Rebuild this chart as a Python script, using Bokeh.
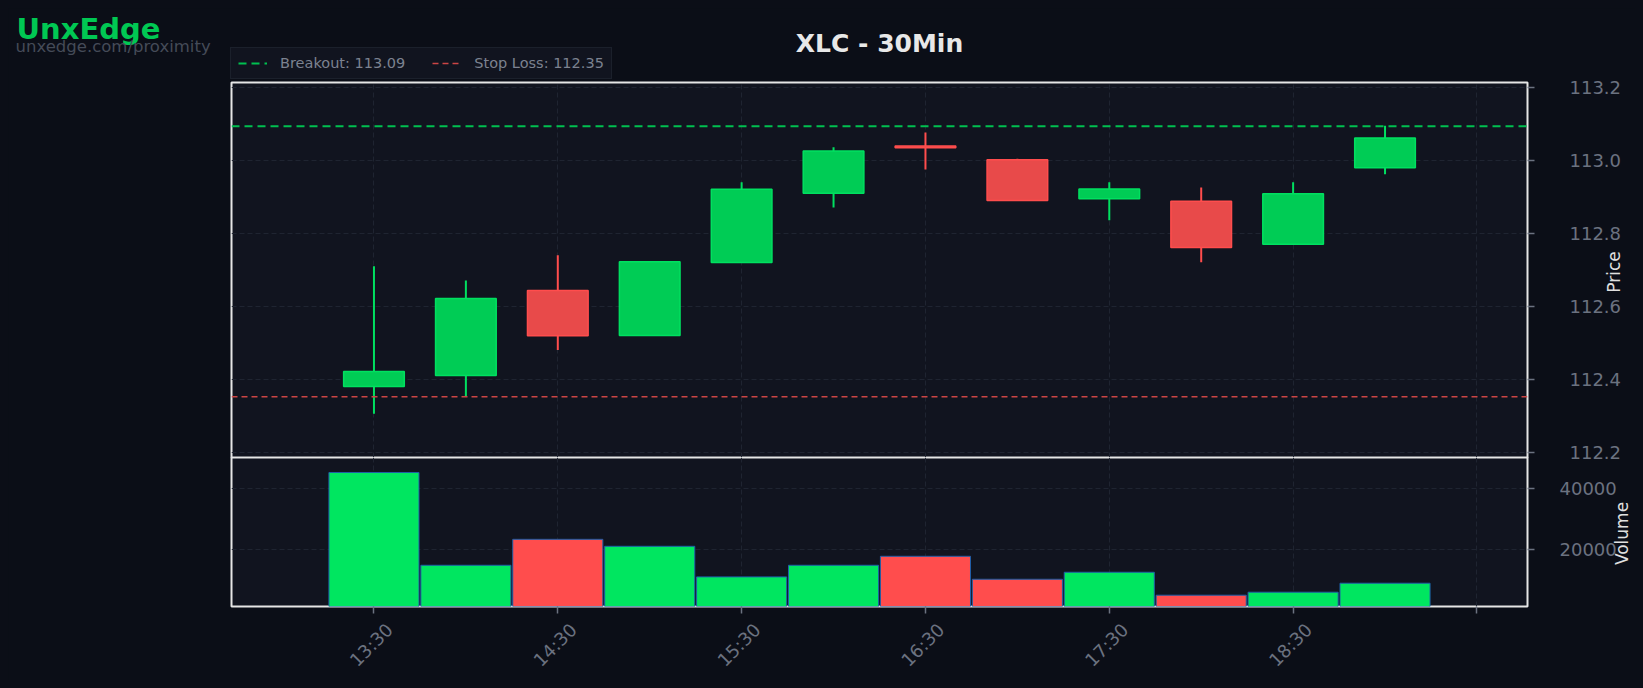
import math
from bokeh.plotting import figure
from bokeh.models import (ColumnDataSource, Range1d, FixedTicker, Grid, Span,
                          Legend, LegendItem, NumeralTickFormatter, LinearAxis)
from bokeh.layouts import column
from bokeh.embed import file_html
from bokeh.resources import INLINE
from bokeh.core.properties import value

# ---------------- data ----------------
times = ["13:30", "14:00", "14:30", "15:00", "15:30", "16:00",
         "16:30", "17:00", "17:30", "18:00", "18:30", "19:00"]
opens = [112.380, 112.410, 112.643, 112.520, 112.720, 112.910,
         113.040, 113.002, 112.895, 112.888, 112.770, 112.980]
highs = [112.710, 112.671, 112.740, 112.722, 112.940, 113.036,
         113.077, 113.005, 112.940, 112.926, 112.940, 113.095]
lows = [112.305, 112.353, 112.480, 112.519, 112.720, 112.871,
        112.975, 112.890, 112.836, 112.721, 112.769, 112.962]
closes = [112.421, 112.621, 112.519, 112.722, 112.921, 113.026,
          113.035, 112.890, 112.922, 112.761, 112.909, 113.062]
volumes = [45150, 15010, 23440, 21170, 11240, 15010,
           17930, 10470, 12740, 5290, 6260, 9180]

breakout_level = 113.094
stop_loss_level = 112.352
symbol = "XLC"
timeframe = "30Min"
brand = "UnxEdge"
brand_url = "unxedge.com/proximity"
price_label = "Price"
volume_label = "Volume"
price_ticks = [112.2, 112.4, 112.6, 112.8, 113.0, 113.2]
volume_ticks = [20000, 40000]
time_tick_step = 2

# ---------------- style ----------------
PAGE_BG = "#0b0e17"
PLOT_BG = "#11141f"
GRID_C = "#1f2431"
FRAME_C = "#e6e6e6"
TICK_C = "#6b7280"
LABEL_C = "#e0e0e0"
UP_FILL, UP_EDGE = "#00cc55", "#00e060"
DN_FILL, DN_EDGE = "#e84a4a", "#ff4d4d"
VOL_UP, VOL_DN, VOL_EDGE = "#00e660", "#ff4d4d", "#1f5fa8"
BRK_C, STOP_C = "#00c050", "#cc4545"
FONT = "DejaVu Sans"
LABEL_SHIFT = 0.17   # rotated time labels: centre them on their tick

n = len(times)
idx = list(range(n))
is_up = [c >= o for o, c in zip(opens, closes)]
src = ColumnDataSource(dict(
    x=idx, open=opens, high=highs, low=lows, close=closes, volume=volumes,
    top=[max(o, c) for o, c in zip(opens, closes)],
    bottom=[min(o, c) for o, c in zip(opens, closes)],
    fill=[UP_FILL if u else DN_FILL for u in is_up],
    edge=[UP_EDGE if u else DN_EDGE for u in is_up],
    vfill=[VOL_UP if u else VOL_DN for u in is_up],
))

x_range = Range1d(-1.55, n - 1 + 1.55)
time_ticks = list(range(0, n + 1, time_tick_step))
label_ticks = [t + LABEL_SHIFT for t in time_ticks if t < n]
label_map = {t + LABEL_SHIFT: times[t] for t in time_ticks if t < n}

# page geometry (pixels inside the 8px page margin)
FRAME_W = 1296
LEFT = 223
BACK_W, BACK_H = 1627, 672        # backdrop canvas: header texts, legend, panel labels
PRICE_TOP, PRICE_H, VOL_H = 74, 375, 149


def try_set(obj, **kw):
    for k, val in kw.items():
        try:
            setattr(obj, k, val)
        except Exception:
            pass


def style_plot(fig):
    fig.center = [r for r in fig.center if not isinstance(r, Grid)]
    fig.background_fill_color = PLOT_BG
    fig.border_fill_color = PAGE_BG
    fig.border_fill_alpha = 0.0
    fig.outline_line_color = FRAME_C
    fig.outline_line_width = 2


def add_grids(fig, yticks):
    for dim, ticks in ((0, time_ticks), (1, yticks)):
        g = Grid(dimension=dim, ticker=FixedTicker(ticks=ticks),
                 grid_line_color=GRID_C, grid_line_width=1, grid_line_dash="5 3")
        fig.add_layout(g)


def style_axis(ax, standoff=22):
    ax.axis_line_color = None
    ax.major_tick_line_color = TICK_C
    ax.major_tick_line_width = 1.5
    ax.major_tick_out = 7
    ax.major_tick_in = 0
    ax.minor_tick_line_color = None
    ax.major_label_text_color = TICK_C
    ax.major_label_text_font = FONT
    ax.major_label_text_font_size = "18px"
    ax.major_label_standoff = standoff


# ---------------- backdrop: brand, title, legend, panel labels ----------------
back = figure(width=BACK_W, height=BACK_H,
              x_range=Range1d(0, BACK_W), y_range=Range1d(BACK_H, 0),
              x_axis_location=None, y_axis_location=None,
              toolbar_location=None, output_backend="svg",
              min_border=0, background_fill_color=PAGE_BG,
              border_fill_color=PAGE_BG, outline_line_color=None)
try_set(back, frame_align=False)
back.grid.visible = False
back.text(x=[8], y=[20.3], text=[brand], text_font=value(FONT),
          text_font_size="29px", text_font_style="bold",
          text_color="#00c853", text_baseline="alphabetic", text_align="left")
back.text(x=[7], y=[38.4], text=[brand_url], text_font=value(FONT),
          text_font_size="16.5px", text_color="#454b58",
          text_baseline="alphabetic", text_align="left")
back.text(x=[LEFT + FRAME_W / 2], y=[35.0], text=[f"{symbol} - {timeframe}"],
          text_font=value(FONT), text_font_size="25px", text_font_style="bold",
          text_color="#e8e8e8", text_baseline="alphabetic", text_align="center")
# y-axis titles of both panels, reading bottom-to-top
back.text(x=[1605, 1613],
          y=[PRICE_TOP + PRICE_H / 2 + 2, PRICE_TOP + PRICE_H + VOL_H / 2 + 1.5],
          text=[price_label, volume_label], angle=math.pi / 2,
          text_font=value(FONT), text_font_size="17px", text_color=LABEL_C,
          text_baseline="middle", text_align="center")

# legend keys (NaN lines that only carry the legend style)
nan = float("nan")
brk_r = back.line(x=[0, 1], y=[nan, nan], line_color=BRK_C, line_dash="8 5", line_width=2)
stop_r = back.line(x=[0, 1], y=[nan, nan], line_color=STOP_C, line_dash="6 4", line_width=1.5)
legend = Legend(items=[
    LegendItem(label=f"Breakout: {breakout_level:.2f}", renderers=[brk_r]),
    LegendItem(label=f"Stop Loss: {stop_loss_level:.2f}", renderers=[stop_r]),
], location=(LEFT - 1, BACK_H - 71), orientation="horizontal",
    padding=7, spacing=27, label_standoff=13, glyph_width=29, glyph_height=14,
    label_height=14, margin=0,
    background_fill_color="#11141f", background_fill_alpha=1.0,
    border_line_color="#262b38", border_line_width=1,
    label_text_color="#7c8290", label_text_font=FONT, label_text_font_size="14.5px")
back.add_layout(legend)

# ---------------- price panel ----------------
p = figure(frame_width=FRAME_W, frame_height=PRICE_H, x_range=x_range,
           y_range=Range1d(112.185, 113.214),
           x_axis_location=None, y_axis_location="right",
           toolbar_location=None, output_backend="svg",
           min_border_left=LEFT, min_border_top=14, min_border_bottom=10,
           min_border_right=10, margin=(PRICE_TOP - 14 - BACK_H, 0, 0, 0))
style_plot(p)
add_grids(p, price_ticks)
p.segment(x0="x", y0="low", x1="x", y1="high", source=src,
          line_color="edge", line_width=2)
p.vbar(x="x", width=0.66, top="top", bottom="bottom", source=src,
       fill_color="fill", line_color="edge", line_width=1.5)
p.add_layout(Span(location=breakout_level, dimension="width",
                  line_color=BRK_C, line_dash="8 5", line_width=2))
p.add_layout(Span(location=stop_loss_level, dimension="width",
                  line_color=STOP_C, line_dash="6 4", line_width=1.5))
p.yaxis.ticker = FixedTicker(ticks=price_ticks)
p.yaxis.formatter = NumeralTickFormatter(format="0.0")
style_axis(p.yaxis[0], standoff=35)

# ---------------- volume panel ----------------
v = figure(frame_width=FRAME_W, frame_height=VOL_H, x_range=x_range,
           y_range=Range1d(1620, 50016),
           y_axis_location="right",
           toolbar_location=None, output_backend="svg",
           min_border_left=LEFT, min_border_top=0, min_border_bottom=10,
           min_border_right=10, margin=(-10, 0, 0, 0))
style_plot(v)
add_grids(v, volume_ticks)
v.vbar(x="x", width=0.98, top="volume", bottom=0, source=src,
       fill_color="vfill", line_color=VOL_EDGE, line_width=1)
v.yaxis.ticker = FixedTicker(ticks=volume_ticks)
v.yaxis.formatter = NumeralTickFormatter(format="0")
style_axis(v.yaxis[0], standoff=25)

# time axis: tick marks on the hour ticks ...
tick_axis = v.xaxis[0]
style_axis(tick_axis)
tick_axis.ticker = FixedTicker(ticks=time_ticks)
tick_axis.major_label_overrides = {t: "" for t in time_ticks}
tick_axis.major_label_text_font_size = "1px"
tick_axis.major_label_standoff = 0
# ... and the rotated time labels, centred on those ticks
lab_axis = LinearAxis(ticker=FixedTicker(ticks=label_ticks),
                      major_label_overrides=label_map)
style_axis(lab_axis)
lab_axis.major_tick_out = 0
lab_axis.major_tick_line_color = None
lab_axis.major_label_standoff = 13
lab_axis.major_label_orientation = math.pi / 4
v.add_layout(lab_axis, "below")

layout = column(back, p, v, spacing=0)

html = file_html(layout, INLINE, title=f"{symbol} - {timeframe}")
html = html.replace("</head>",
                    "<style>html,body{background:%s;margin:0;}body{margin:8px;}</style></head>" % PAGE_BG, 1)
open("out.html", "w").write(html)
